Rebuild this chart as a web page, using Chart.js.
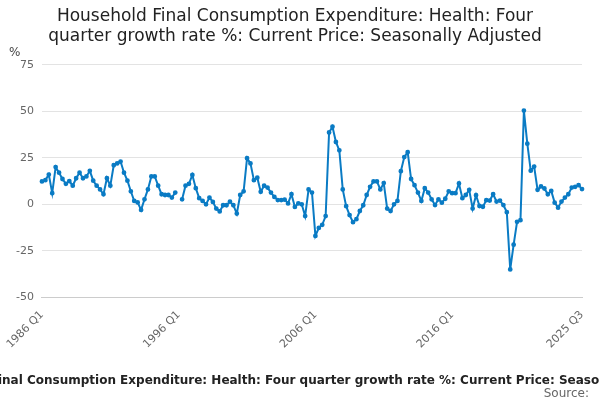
<!DOCTYPE html>
<html><head><meta charset="utf-8">
<script src="https://cdn.jsdelivr.net/npm/chart.js@4"></script>
<style>html,body{margin:0;padding:0;background:#fff}#w{width:600px;height:400px;position:relative}</style>
</head><body><div id="w"><canvas id="c"></canvas></div>
<script>
const startYear = 1986;
const quarterCount = 159;
const tickLabels = ["1986 Q1","1996 Q1","2006 Q1","2016 Q1","2025 Q3"];
const growth = [
12.3,13,16,6,20,17,13.6,11,12.5,10,14,17,14,15,18,12.7,10,8,5.4,14,
10,21,22,23,17,12.7,7,1.8,1,-3,2.7,8,15,15,10,5.4,5,5,3.6,6.3,
null,2.7,10,11,15.8,8.7,3.3,1.8,0,3.6,1.3,-2.3,-3.8,-0.5,-0.5,1.5,-0.5,-5,5,7,
24.8,22,13,14.3,6.7,10,9,6.3,4,2.3,2.3,2.5,0.5,5.4,-1.4,0.5,0,-6.3,8,6.3,
-17,-12.7,-11,-6.3,38.6,41.7,33.5,29,8,-1,-5.8,-9.6,-8,-3.6,-0.5,5,9.4,12.3,12.3,8,
11.4,-2.3,-3.6,0,1.8,17.8,25.4,28,13.6,10.3,6.3,1.8,8.7,6.3,2.7,-0.4,2.7,0.9,3,7,
6,6,11.2,3.3,5,7.8,-2.3,4.9,-0.9,-1.3,2.2,2,5.4,1.5,2,-0.4,-4.2,-35,-21.7,-9.4,
-8.5,50.4,32.6,18.1,20.3,7.8,9.6,8.5,5.4,7.2,0.9,-1.8,1.5,3.6,5.4,9,9.4,10.3,8.2
];
const labels = [];
for (let i = 0; i < quarterCount; i++) labels.push((startYear + Math.floor(i/4)) + " Q" + (i%4+1));
const title = ["Household Final Consumption Expenditure: Health: Four","quarter growth rate %: Current Price: Seasonally Adjusted"];
const footer = "Household Final Consumption Expenditure: Health: Four quarter growth rate %: Current Price: Seasonally Adjusted";
const F = '"DejaVu Sans", Verdana, sans-serif';

const extra = {id:'extra', afterDraw(ch){const c=ch.ctx;c.save();c.fillStyle='#444';c.font='12px '+F;c.textAlign='left';c.fillText('%',9,56);
c.fillStyle='#222';c.font='bold 12px '+F;const off=c.measureText('Household Fi').width;c.fillText(footer,-off+2,384);
c.fillStyle='#666';c.font='12px '+F;c.textAlign='right';c.fillText('Source:',589,397);c.restore();}};

new Chart(document.getElementById('c'), {
  type:'line',
  data:{labels, datasets:[{data:growth, borderColor:'#0a7bc4', backgroundColor:'#0a7bc4', borderWidth:2, pointRadius:1.4, pointHoverRadius:2, spanGaps:false, tension:0}]},
  options:{responsive:true, maintainAspectRatio:false, animation:false,
    layout:{padding:{left:8,right:18,top:0,bottom:46}},
    plugins:{legend:{display:false}, tooltip:{enabled:false},
      title:{display:true,text:title,color:'#222',font:{size:17,weight:'normal',family:F},padding:{top:6,bottom:18},lineHeight:1.2}},
    scales:{
      x:{grid:{display:false,drawTicks:true}, border:{color:'#ccc'},
        afterBuildTicks(s){s.ticks=s.ticks.filter(t=>tickLabels.includes(labels[t.value]));},
        ticks:{autoSkip:false,maxRotation:45,minRotation:45,color:'#666',font:{size:11,family:F}}},
      y:{min:-50,max:75,grid:{color:'#e3e3e3',drawTicks:false},border:{display:false},
        ticks:{stepSize:25,color:'#666',font:{size:11,family:F},padding:8}}
    }},
  plugins:[extra]
});
</script></body></html>
